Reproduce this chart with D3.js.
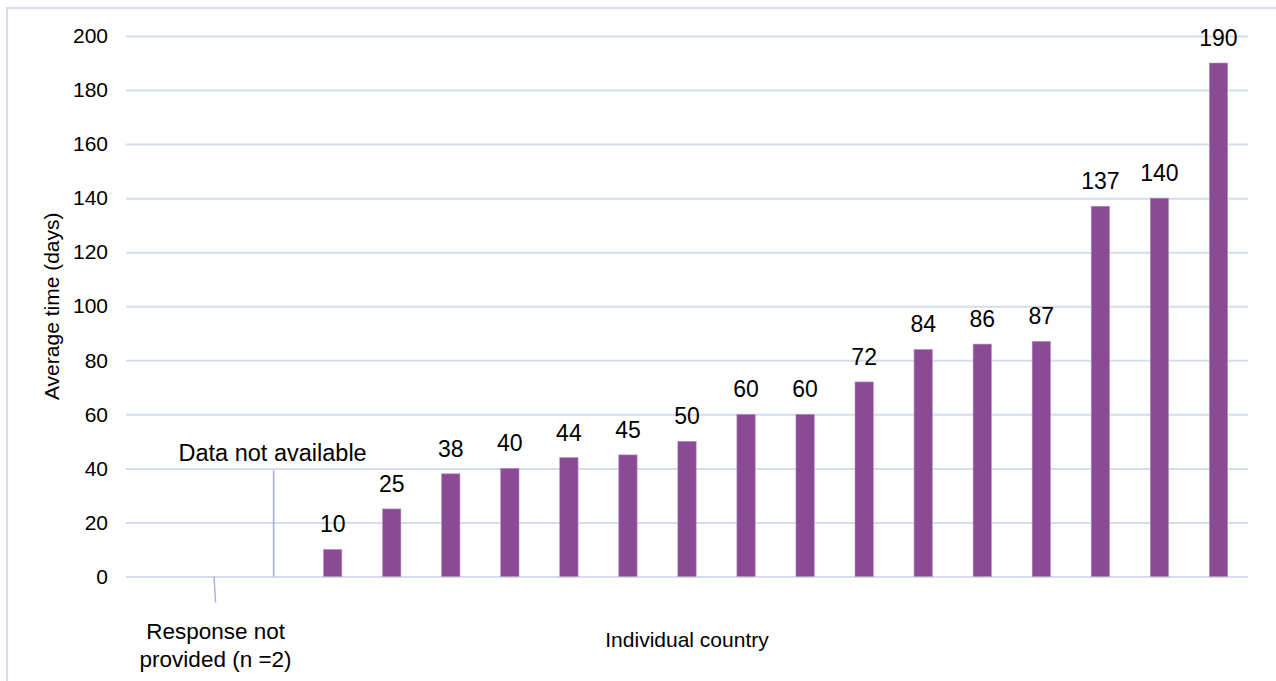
<!DOCTYPE html>
<html>
<head>
<meta charset="utf-8">
<script src="https://cdn.jsdelivr.net/npm/d3@7"></script>
<style>
  html, body { margin: 0; padding: 0; background: #ffffff; }
  svg { display: block; font-family: "Liberation Sans", Arial, sans-serif; }
</style>
</head>
<body>
<svg id="chart" width="1276" height="681"></svg>
<script>
// One slot per country; the first three slots carry no bar.
const countries = d3.range(19).map(i => "c" + (i + 1));
const values = [null, null, null, 10, 25, 38, 40, 44, 45, 50, 60, 60, 72, 84, 86, 87, 137, 140, 190];
const yTicks = [0, 20, 40, 60, 80, 100, 120, 140, 160, 180, 200];

// Annotations for the empty slots
const notAvailableSlot = "c3";
const notAvailableLevel = 40;
const notProvidedSlot = "c2";
const notProvidedLines = ["Response not", "provided (n =2)"];

const svg = d3.select("#chart");
const W = 1276, H = 681;
const margin = { left: 126, right: 28, top: 36, bottom: 104.5 };

const gridColor = "#d5dcee";
const barColor = "#8b4a96";

// frame around the chart area
svg.append("rect")
  .attr("x", 7).attr("y", 8)
  .attr("width", W + 10).attr("height", H + 10)
  .attr("fill", "none").attr("stroke", gridColor).attr("stroke-width", 2);

const x = d3.scaleBand()
  .domain(countries)
  .range([margin.left, W - margin.right])
  .paddingInner(0.69)
  .paddingOuter(0.345);

const y = d3.scaleLinear()
  .domain([0, 200])
  .range([H - margin.bottom, margin.top]);

// horizontal gridlines and tick labels
const yAxis = d3.axisLeft(y)
  .tickValues(yTicks)
  .tickSize(-(W - margin.right - margin.left))
  .tickPadding(18);

const gy = svg.append("g")
  .attr("transform", `translate(${margin.left},0)`)
  .call(yAxis);
gy.select(".domain").remove();
gy.selectAll(".tick line")
  .attr("stroke", gridColor).attr("stroke-width", 2);
gy.selectAll(".tick text")
  .attr("fill", "#000")
  .style("font-size", "21px")
  .style("font-family", "'Liberation Sans', Arial, sans-serif");

// bars
const data = countries.map((c, i) => ({ c, v: values[i] })).filter(d => d.v != null);

svg.append("g").selectAll("rect")
  .data(data)
  .join("rect")
  .attr("x", d => x(d.c))
  .attr("y", d => y(d.v))
  .attr("width", x.bandwidth())
  .attr("height", d => y(0) - y(d.v))
  .attr("fill", barColor)
  .attr("stroke", "#b58fbf")
  .attr("stroke-width", 0.6);

// value labels
svg.append("g").selectAll("text")
  .data(data)
  .join("text")
  .attr("x", d => x(d.c) + x.bandwidth() / 2)
  .attr("y", d => y(d.v) - 17)
  .attr("text-anchor", "middle")
  .attr("fill", "#000")
  .style("font-size", "23px")
  .text(d => d.v);

// "Data not available" marker
const naX = x(notAvailableSlot) + x.bandwidth() / 2;
svg.append("line")
  .attr("x1", naX).attr("x2", naX)
  .attr("y1", y(0)).attr("y2", y(notAvailableLevel) + 2)
  .attr("stroke", "#a3b2da").attr("stroke-width", 1.6);
svg.append("text")
  .attr("x", naX - 1)
  .attr("y", y(notAvailableLevel) - 7)
  .attr("text-anchor", "middle")
  .attr("fill", "#000")
  .style("font-size", "23.5px")
  .text("Data not available");

// "Response not provided" marker below the baseline
const npX = x(notProvidedSlot) + x.bandwidth() / 2;
svg.append("line")
  .attr("x1", npX - 0.5).attr("x2", npX + 1)
  .attr("y1", y(0)).attr("y2", y(0) + 26)
  .attr("stroke", "#a3b2da").attr("stroke-width", 1.4);
svg.append("text")
  .attr("x", npX + 1)
  .attr("y", 639)
  .attr("text-anchor", "middle")
  .attr("fill", "#000")
  .style("font-size", "22.5px")
  .selectAll("tspan")
  .data(notProvidedLines)
  .join("tspan")
  .attr("x", npX + 1)
  .attr("dy", (d, i) => i === 0 ? 0 : 28)
  .text(d => d);

// axis titles
svg.append("text")
  .attr("x", 687)
  .attr("y", 647)
  .attr("text-anchor", "middle")
  .attr("fill", "#000")
  .style("font-size", "21px")
  .text("Individual country");

svg.append("text")
  .attr("transform", `translate(59,${(y(0) + y(200)) / 2}) rotate(-90)`)
  .attr("text-anchor", "middle")
  .attr("fill", "#000")
  .style("font-size", "21px")
  .text("Average time (days)");
</script>
</body>
</html>
